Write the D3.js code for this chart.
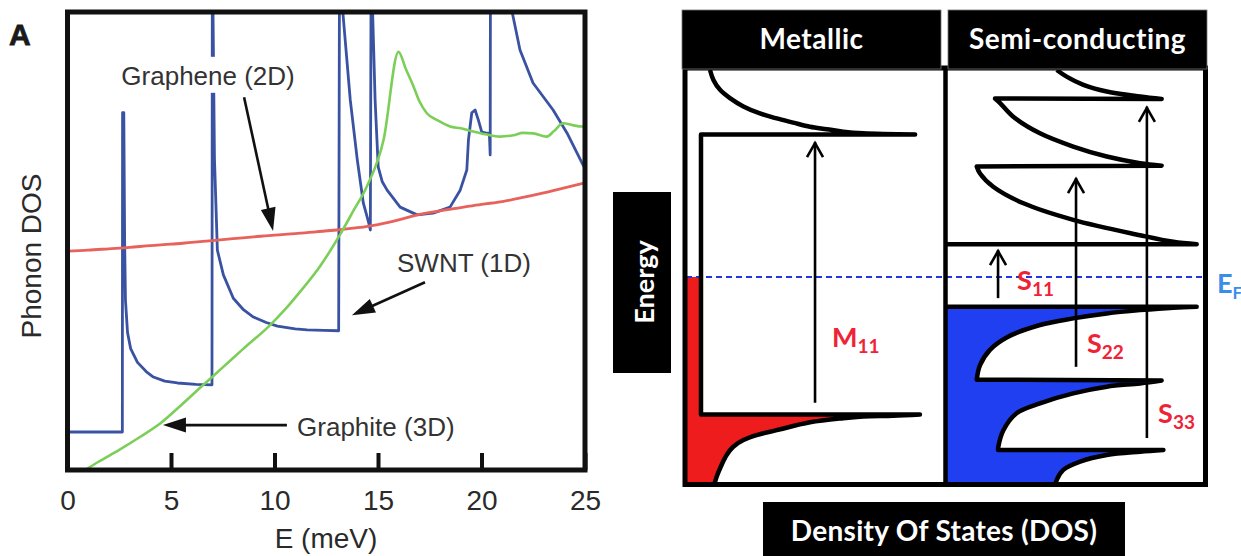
<!DOCTYPE html>
<html>
<head>
<meta charset="utf-8">
<script src="https://cdn.jsdelivr.net/npm/d3@7"></script>
<style>
  html, body { margin: 0; padding: 0; background: #fff; }
  svg { display: block; }
</style>
</head>
<body>
<svg id="fig" width="1241" height="556"></svg>
<script>
// ---------- Panel A: phonon density of states (E in meV, DOS in arbitrary units 0-100) ----------
const energyTicks = [0, 5, 10, 15, 20, 25];

const graphene2D = [
  [0, 47.8], [1, 48.0], [2, 48.3], [3, 48.6], [4, 49.0], [5, 49.3], [6, 49.7], [7, 50.1],
  [8, 50.5], [9, 50.9], [10, 51.3], [11, 51.6], [12, 52.0], [13, 52.4], [14, 52.9], [15, 53.6],
  [16, 54.6], [17, 55.8], [18, 56.6], [19, 57.3], [20, 58.0], [21, 58.6], [22, 59.5], [23, 60.5],
  [24, 61.6], [25, 62.7]
];

const swnt1D = [
  [0, 8.3], [2.65, 8.3], [2.66, 78.0], [2.72, 78.0], [2.76, 50], [2.80, 37.1], [2.90, 30.0],
  [3.05, 26.5], [3.38, 23.5], [3.8, 21.5], [4.15, 20.3], [4.7, 19.4], [5.31, 19.0], [6.2, 18.7],
  [6.98, 18.6], [7.0, 130], [7.03, 100], [7.1, 68], [7.24, 48.0], [7.53, 42.6], [8.01, 37.5],
  [8.5, 35.0], [8.98, 33.4], [9.6, 32.2], [10.14, 31.4], [11.0, 30.8], [11.58, 30.6], [12.4, 30.5],
  [13.1, 30.4], [13.15, 130], [13.3, 100], [13.66, 80.8], [14.0, 67.7], [14.29, 58.3], [14.55, 54.0],
  [14.63, 52.4], [14.68, 130], [14.74, 100], [14.86, 80.8], [15.01, 66.2], [15.2, 63.0], [15.44, 61.1],
  [16.07, 57.4], [16.89, 55.7], [17.66, 56.1], [18.48, 57.4], [18.97, 61.1], [19.29, 65.5], [19.37, 72.1],
  [19.53, 78.0], [19.69, 78.6], [19.85, 76.4], [20.01, 73.8], [20.2, 73.6], [20.38, 73.5], [20.42, 68.8],
  [20.45, 160], [20.7, 125], [21.0, 110], [21.48, 100], [21.86, 91.7], [22.49, 84.5], [23.46, 78.6],
  [24.13, 73.6], [24.86, 67.0], [25, 65.8]
];

const graphite3D = [
  [0.85, 0], [1.5, 1.8], [2.5, 4.4], [3.5, 7.2], [4.49, 10.2], [5.5, 14.2], [6.42, 18.0], [7.5, 22.4],
  [8.5, 26.5], [9.8, 31.7], [10.5, 35.0], [11.25, 39.0], [12.2, 44.5], [13.18, 51.5], [13.8, 56.5],
  [14.46, 61.9], [15.27, 72.1], [15.99, 91.3], [16.35, 87.5], [16.72, 83.7], [17.0, 80.5], [17.36, 77.9],
  [17.9, 76.3], [18.48, 75.0], [19.0, 74.6], [19.61, 73.9], [20.2, 73.3], [20.9, 72.8], [21.54, 73.1],
  [22.0, 73.6], [22.5, 73.5], [23.15, 72.8], [23.5, 74.0], [23.95, 75.7], [24.4, 75.3], [24.84, 75.0],
  [25.0, 75.0]
];

// annotation text anchors and arrows, in data units (E, DOS)
const curveLabels = [
  { text: "Graphene (2D)", E: 6.79, v: 84.1, anchor: "middle", box: true },
  { text: "SWNT (1D)", E: 15.92, v: 43.2, anchor: "start", box: false },
  { text: "Graphite (3D)", E: 11.09, v: 7.4, anchor: "start", box: false }
];
const curveArrows = [
  { from: [8.53, 81.4], to: [9.93, 52.2] },
  { from: [17.27, 41.0], to: [13.74, 33.8] },
  { from: [10.6, 9.8], to: [4.61, 9.8] }
];

// ---------- Panel B: electronic DOS of metallic / semiconducting tubes ----------
// each trace: list of segments of [DOS, energy] points; smooth segments are van Hove tails
const fermiLevel = 50;

const metallicTrace = [
  { smooth: true, pts: [[9.45, 100], [10.8, 97.6], [13.4, 95.2], [17.3, 93.2], [22.6, 91.2], [29.1, 89.5],
      [35.7, 88.3], [42.2, 87.3], [48.8, 86.3], [55.4, 85.7], [61.9, 85.1], [69.8, 84.7], [90.2, 84.4]] },
  { smooth: false, pts: [[90.2, 84.4], [5.9, 84.4], [5.9, 16.8], [92.1, 16.8]] },
  { smooth: true, pts: [[92.1, 16.8], [81.6, 16.5], [69.8, 16.3], [61.9, 15.9], [48.8, 14.9], [35.7, 13.0],
      [27.8, 11.8], [22.6, 10.6], [18.6, 9.0], [16.0, 7.0], [14.0, 4.6], [12.1, 1.8], [11.2, 0]] }
];
const metallicFilled = [
  { smooth: false, pts: [[0, 0], [0, fermiLevel], [5.9, fermiLevel], [5.9, 16.8], [92.1, 16.8]] },
  metallicTrace[2]
];

const semiConduction = [
  { smooth: true, pts: [[43.2, 100], [47.1, 98.4], [53.7, 96.4], [62.9, 94.8], [76.0, 93.6], [84.5, 93.0]] },
  { smooth: false, pts: [[84.5, 93.0], [18.9, 93.1]] },
  { smooth: true, pts: [[18.9, 93.1], [20.9, 92.0], [26.1, 88.7], [36.6, 84.7], [49.7, 81.5], [62.9, 79.1],
      [76.0, 77.5], [84.5, 76.9]] },
  { smooth: false, pts: [[84.5, 76.9], [11.7, 76.7]] },
  { smooth: true, pts: [[11.7, 76.7], [13.0, 75.0], [18.2, 71.8], [30.1, 67.8], [49.7, 63.8], [76.0, 60.1],
      [89.1, 58.5], [98.3, 57.9]] },
  { smooth: false, pts: [[98.3, 57.9], [0, 57.9]] }
];
const semiValence = [
  { smooth: false, pts: [[0, 42.8], [98.3, 42.8]] },
  { smooth: true, pts: [[98.3, 42.8], [89.1, 42.6], [76.0, 42.0], [62.9, 41.2], [49.7, 40.0], [36.6, 38.4],
      [23.5, 35.4], [16.9, 32.4], [13.0, 28.7], [11.7, 25.2]] },
  { smooth: false, pts: [[11.7, 25.2], [84.5, 25.0]] },
  { smooth: true, pts: [[84.5, 25.0], [76.0, 24.3], [62.9, 23.5], [49.7, 21.9], [36.6, 19.5], [27.4, 17.1],
      [22.2, 13.0], [20.2, 9.0], [20.1, 8.2]] },
  { smooth: false, pts: [[20.1, 8.2], [85.2, 8.2]] },
  { smooth: true, pts: [[85.2, 8.2], [76.0, 7.8], [62.9, 7.0], [52.4, 5.4], [45.8, 3.4], [43.2, 1.0], [42.8, 0]] }
];
const semiFilled = semiValence.concat([{ smooth: false, pts: [[42.8, 0], [0, 0], [0, 42.8]] }]);

// optical transitions: DOS position, start / end energy, label
const metallicTransitions = [
  { dos: 50.8, from: 19.6, to: 82.6, name: "M", sub: "11", ldos: 57.5, lE: 33.1 }
];
const semiTransitions = [
  { dos: 20.1, from: 44.9, to: 56.5, name: "S", sub: "11", ldos: 27.6, lE: 46.9 },
  { dos: 50.8, from: 28.3, to: 73.9, name: "S", sub: "22", ldos: 55.1, lE: 31.6 },
  { dos: 78.7, from: 11.1, to: 91.1, name: "S", sub: "33", ldos: 83.1, lE: 14.7 }
];

// ============================== drawing ==============================
const svg = d3.select("#fig");
const helv = "'Liberation Sans', Arial, Helvetica, sans-serif";
const cal = "Lato, 'Open Sans', sans-serif";

// ---- panel A ----
const x = d3.scaleLinear().domain([0, 25]).range([67.5, 585]);
const y = d3.scaleLinear().domain([0, 100]).range([470, 12]);
const gA = svg.append("g");

svg.append("defs").append("clipPath").attr("id", "clipA")
  .append("rect")
  .attr("x", x(0)).attr("y", y(100))
  .attr("width", x(25) - x(0)).attr("height", y(0) - y(100));

const lineA = d3.line().x(d => x(d[0])).y(d => y(d[1]));
const plot = gA.append("g").attr("clip-path", "url(#clipA)");

plot.append("path").datum(swnt1D)
  .attr("d", lineA).attr("fill", "none")
  .attr("stroke", "#3a52a2").attr("stroke-width", 2.8).attr("stroke-linejoin", "round");
plot.append("path").datum(graphene2D)
  .attr("d", lineA.curve(d3.curveMonotoneX)).attr("fill", "none")
  .attr("stroke", "#e8625c").attr("stroke-width", 2.8);
plot.append("path").datum(graphite3D)
  .attr("d", lineA.curve(d3.curveMonotoneX)).attr("fill", "none")
  .attr("stroke", "#7bcf58").attr("stroke-width", 2.6);
lineA.curve(d3.curveLinear);

// labels
curveLabels.forEach(l => {
  const t = gA.append("text")
    .attr("x", x(l.E)).attr("y", y(l.v))
    .attr("text-anchor", l.anchor)
    .attr("font-family", helv).attr("font-size", 26)
    .attr("fill", "#333")
    .text(l.text);
  if (l.box) {
    const b = t.node().getBBox();
    gA.insert("rect", () => t.node())
      .attr("x", b.x - 4).attr("y", b.y - 4)
      .attr("width", b.width + 8).attr("height", b.height + 6)
      .attr("fill", "#fff");
  }
});

// filled-head arrows
curveArrows.forEach(a => {
  const sx = x(a.from[0]), sy = y(a.from[1]);
  const tx = x(a.to[0]), ty = y(a.to[1]);
  const len = Math.hypot(tx - sx, ty - sy);
  const ux = (tx - sx) / len, uy = (ty - sy) / len;
  const L = 23, w = 7.5;
  const bx = tx - ux * L, by = ty - uy * L;
  gA.append("line")
    .attr("x1", sx).attr("y1", sy).attr("x2", bx + ux * 2).attr("y2", by + uy * 2)
    .attr("stroke", "#111").attr("stroke-width", 2.6);
  gA.append("path")
    .attr("d", `M${tx},${ty}L${bx - uy * w},${by + ux * w}L${bx + uy * w},${by - ux * w}Z`)
    .attr("fill", "#111");
});

// frame and axis
gA.append("rect")
  .attr("x", x(0)).attr("y", y(100))
  .attr("width", x(25) - x(0)).attr("height", y(0) - y(100))
  .attr("fill", "none").attr("stroke", "#111").attr("stroke-width", 5);

const axA = gA.append("g")
  .attr("transform", `translate(0,${y(0)})`)
  .call(d3.axisBottom(x).tickValues(energyTicks).tickSizeInner(-17).tickSizeOuter(0).tickFormat(d3.format("d")));
axA.select(".domain").remove();
axA.selectAll(".tick line").attr("stroke", "#111").attr("stroke-width", 4);
axA.selectAll(".tick text")
  .attr("y", 40).attr("dy", 0)
  .attr("font-family", helv).attr("font-size", 28).attr("fill", "#2a2a2a");

gA.append("text")
  .attr("x", 326).attr("y", 548)
  .attr("text-anchor", "middle")
  .attr("font-family", helv).attr("font-size", 28).attr("fill", "#2a2a2a")
  .text("E (meV)");
gA.append("text")
  .attr("transform", "translate(41,256) rotate(-90)")
  .attr("text-anchor", "middle")
  .attr("font-family", helv).attr("font-size", 28).attr("fill", "#2a2a2a")
  .text("Phonon DOS");
gA.append("text")
  .attr("x", 9).attr("y", 45)
  .attr("font-family", helv).attr("font-size", 30).attr("font-weight", "bold").attr("fill", "#1a1a1a")
  .attr("stroke", "#1a1a1a").attr("stroke-width", 0.8)
  .text("A");

// ---- panel B ----
const eY = d3.scaleLinear().domain([0, 100]).range([484, 70]);
const dosM = d3.scaleLinear().domain([0, 100]).range([686, 940]);
const dosS = d3.scaleLinear().domain([0, 100]).range([947, 1201]);
const gB = svg.append("g");

function tracePath(segs, sx, closed) {
  const straight = d3.line().x(d => sx(d[0])).y(d => eY(d[1]));
  const smooth = d3.line().x(d => sx(d[0])).y(d => eY(d[1])).curve(d3.curveCatmullRom.alpha(0.5));
  const parts = segs.map((s, i) => {
    const p = (s.smooth ? smooth : straight)(s.pts);
    return i ? p.replace(/^M/, "L") : p;
  });
  return parts.join("") + (closed ? "Z" : "");
}

// filled (occupied) states
gB.append("path").attr("d", tracePath(metallicFilled, dosM, true)).attr("fill", "#ee1c1c");
gB.append("path").attr("d", tracePath(semiFilled, dosS, true)).attr("fill", "#1f3ff0");

// Fermi level
gB.append("line")
  .attr("x1", dosM(0)).attr("x2", dosS(100) + 2)
  .attr("y1", eY(fermiLevel)).attr("y2", eY(fermiLevel))
  .attr("stroke", "#2236e0").attr("stroke-width", 2).attr("stroke-dasharray", "6,4");

// transition arrows
function transition(t, sx) {
  const ax = sx(t.dos), y1 = eY(t.from), y2 = eY(t.to);
  gB.append("line").attr("x1", ax).attr("x2", ax).attr("y1", y1).attr("y2", y2)
    .attr("stroke", "#000").attr("stroke-width", 2.6);
  gB.append("path")
    .attr("d", `M${ax - 8},${y2 + 15}L${ax},${y2 + 1}L${ax + 8},${y2 + 15}`)
    .attr("fill", "none").attr("stroke", "#000").attr("stroke-width", 2.6);
  const lab = gB.append("text")
    .attr("x", sx(t.ldos)).attr("y", eY(t.lE))
    .attr("font-family", cal).attr("font-weight", "bold").attr("font-size", 27)
    .attr("fill", "#ef2236");
  lab.append("tspan").text(t.name);
  lab.append("tspan").attr("dy", 6).attr("font-size", 19).text(t.sub);
}
metallicTransitions.forEach(t => transition(t, dosM));
semiTransitions.forEach(t => transition(t, dosS));

// DOS traces
const traceStyle = sel => sel.attr("fill", "none").attr("stroke", "#000")
  .attr("stroke-width", 4.5).attr("stroke-linejoin", "round");
gB.append("path").attr("d", tracePath(metallicTrace, dosM, false)).call(traceStyle);
gB.append("path").attr("d", tracePath(semiConduction, dosS, false)).call(traceStyle);
gB.append("path").attr("d", tracePath(semiValence, dosS, false)).call(traceStyle);

// panel frames
gB.append("rect").attr("x", 685).attr("y", 68).attr("width", 520.5).attr("height", 416.5)
  .attr("fill", "none").attr("stroke", "#000").attr("stroke-width", 5);
gB.append("line").attr("x1", 945.5).attr("x2", 945.5).attr("y1", 68).attr("y2", 484)
  .attr("stroke", "#000").attr("stroke-width", 4.5);

// header boxes
const headers = [
  { text: "Metallic", x0: 682, x1: 941 },
  { text: "Semi-conducting", x0: 948, x1: 1207 }
];
headers.forEach(h => {
  gB.append("rect").attr("x", h.x0).attr("y", 10).attr("width", h.x1 - h.x0).attr("height", 59)
    .attr("fill", "#000").attr("stroke", "#777").attr("stroke-width", 0.8);
  gB.append("text").attr("x", (h.x0 + h.x1) / 2).attr("y", 49)
    .attr("text-anchor", "middle").attr("font-family", cal).attr("font-weight", "bold")
    .attr("font-size", 28).attr("letter-spacing", 0.5).attr("fill", "#fff").text(h.text);
});

// axis titles in black boxes
gB.append("rect").attr("x", 613).attr("y", 192).attr("width", 58).attr("height", 181).attr("fill", "#000");
gB.append("text").attr("transform", "translate(654,282) rotate(-90)")
  .attr("text-anchor", "middle").attr("font-family", cal).attr("font-weight", "bold")
  .attr("font-size", 27).attr("fill", "#fff").text("Energy");
gB.append("rect").attr("x", 763).attr("y", 502).attr("width", 362).attr("height", 60).attr("fill", "#000");
gB.append("text").attr("x", 944).attr("y", 541)
  .attr("text-anchor", "middle").attr("font-family", cal).attr("font-weight", "bold")
  .attr("font-size", 28).attr("letter-spacing", 0.3).attr("fill", "#fff").text("Density Of States (DOS)");

// Fermi level label
const ef = gB.append("text").attr("x", 1217).attr("y", eY(fermiLevel) + 16)
  .attr("font-family", cal).attr("font-weight", "bold").attr("font-size", 27).attr("fill", "#3a8ee8");
ef.append("tspan").text("E");
ef.append("tspan").attr("dy", 6).attr("font-size", 17).text("F");
</script>
</body>
</html>
